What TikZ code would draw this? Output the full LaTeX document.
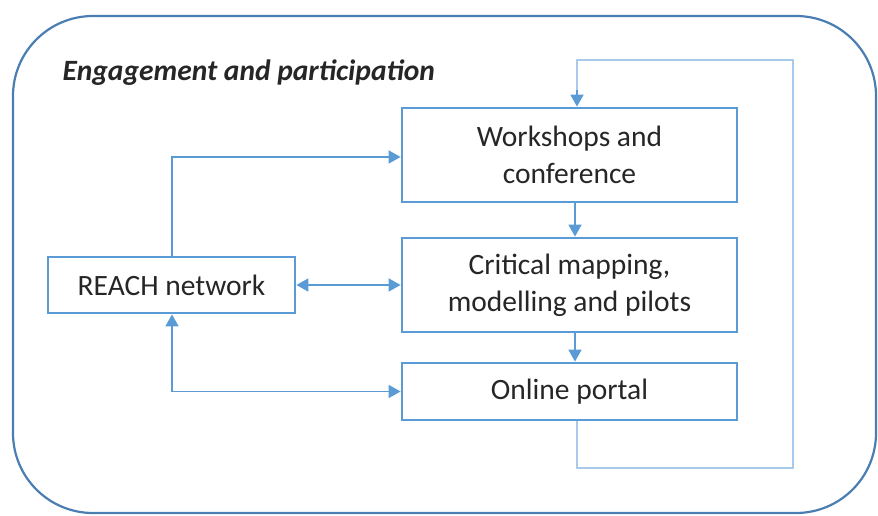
\documentclass[tikz,border=0pt]{standalone}
\usepackage{fontspec}
\setmainfont{Carlito}
\usetikzlibrary{arrows.meta}
\definecolor{boxblue}{HTML}{5B9BD5}
\definecolor{loopblue}{HTML}{A8CBEC}
\definecolor{frameblue}{HTML}{4A7EB3}
\definecolor{txt}{HTML}{262626}
\tikzset{
  stage/.style={draw=boxblue, line width=2.8pt, fill=white, text=txt,
    font=\fontsize{29.5}{37}\selectfont, align=center, inner sep=0pt},
  link/.style={draw=boxblue, line width=1.7pt, -{Triangle[length=12pt,width=13pt]}},
  twoway/.style={link, {Triangle[length=12pt,width=13pt]}-{Triangle[length=12pt,width=13pt]}},
  feedback/.style={draw=loopblue, line width=1.7pt},
}
\begin{document}
\begin{tikzpicture}[x=1pt,y=-1pt]
\useasboundingbox (0,0) rectangle (878,516);
% outer frame
\draw[frameblue, line width=2.2pt, rounded corners=80pt] (13,16) rectangle (876,513);
\node[anchor=base west, text=txt, font=\fontsize{29.5}{34}\selectfont\bfseries\itshape] (title) at (59,81) {Engagement and participation};

% stages
\node[stage, minimum width=335pt, minimum height=94pt] (work) at (569.5,155) {Workshops and\\conference};
\node[stage, minimum width=335pt, minimum height=94pt] (map) at (569.5,285) {Critical mapping,\\modelling and pilots};
\node[stage, minimum width=335pt, minimum height=57pt] (portal) at (569.5,391.5) {Online portal};
\node[stage, minimum width=247pt, minimum height=56pt] (reach) at (171.5,285) {REACH network};

% feedback loop from the portal back to the workshops
\coordinate (lb) at (577,468);
\coordinate (rb) at (793,468);
\coordinate (rt) at (793,60);
\coordinate (lt) at (577,60);
\draw[feedback] (portal.south -| lb) -- (lb) -- (rb) -- (rt) -- (lt) -- ++(0,36);
\draw[link, draw=boxblue] (577,90) -- (work.north -| lt);

% links
\draw[link] (reach.north -| 172,0) |- (work.west |- 0,157);
\draw[twoway] (reach.east) -- (map.west);
\draw[twoway] (reach.south -| 172,0) |- (portal.west);
\draw[link] (work.south -| 575,0) -- (map.north -| 575,0);
\draw[link] (map.south -| 575,0) -- (portal.north -| 575,0);
\end{tikzpicture}
\end{document}
